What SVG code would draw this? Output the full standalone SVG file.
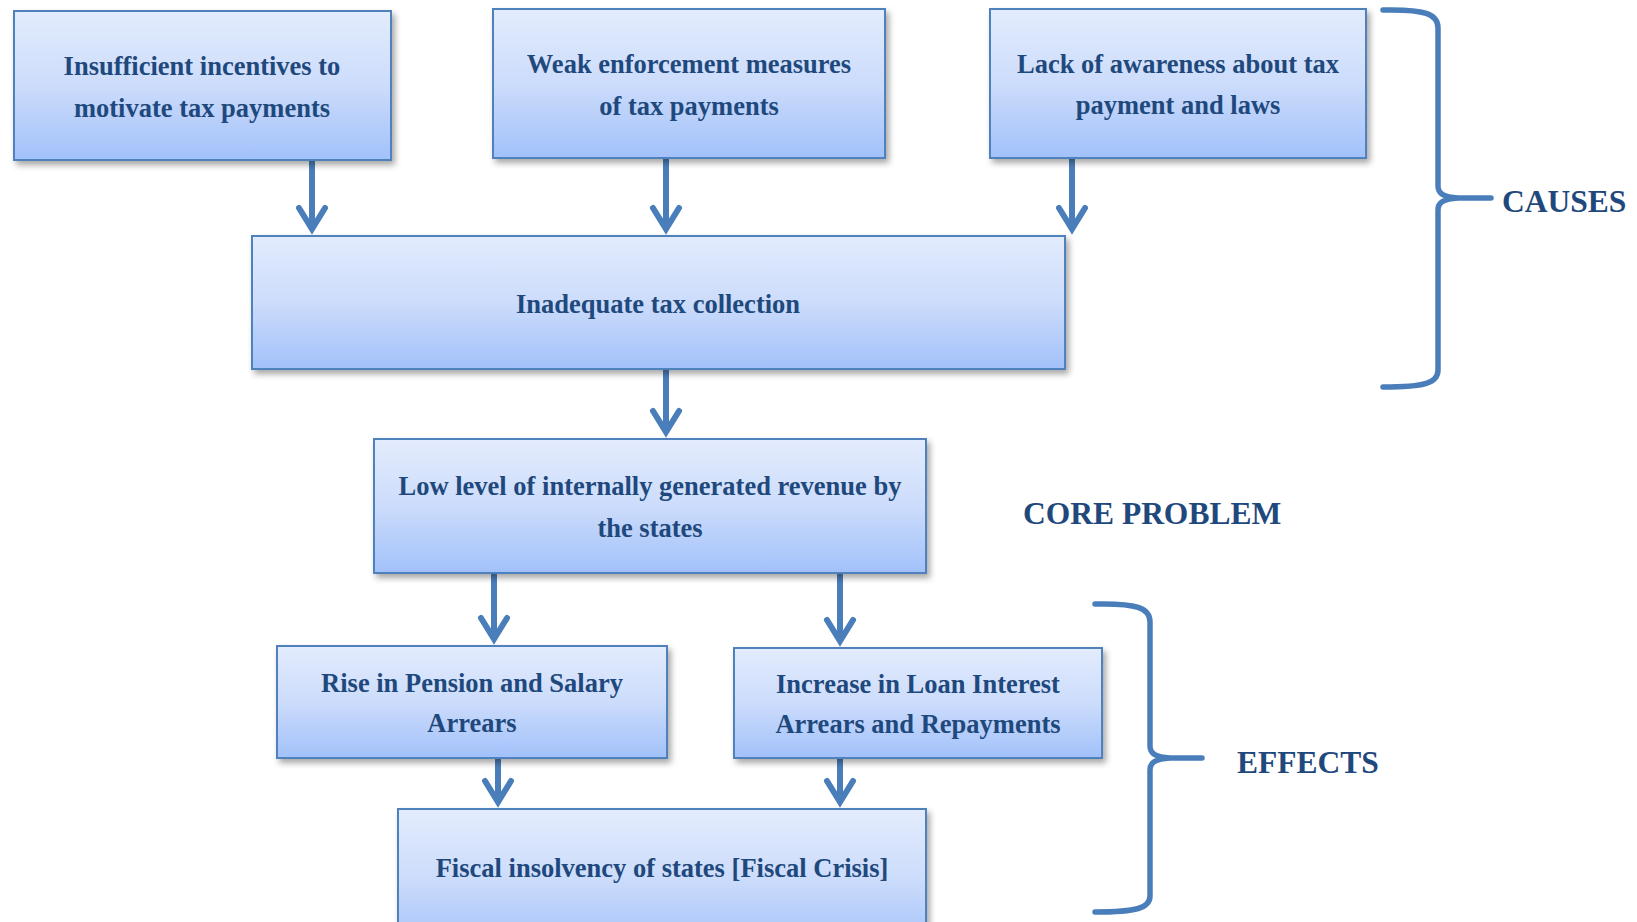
<svg xmlns="http://www.w3.org/2000/svg" width="1637" height="922" viewBox="0 0 1637 922">
<defs>
<linearGradient id="g" x1="0" y1="0" x2="0" y2="1">
<stop offset="0" stop-color="#E3ECFD"/>
<stop offset="0.5" stop-color="#CCDCFB"/>
<stop offset="1" stop-color="#A2C1FA"/>
</linearGradient>
<filter id="sh" x="-5%" y="-5%" width="115%" height="125%">
<feDropShadow dx="3" dy="4" stdDeviation="3" flood-color="#000" flood-opacity="0.35"/>
</filter>
<style>
.box{fill:url(#g);stroke:#4F81BD;stroke-width:2;filter:url(#sh)}
.t{font-family:"Liberation Serif","Times New Roman",serif;font-weight:bold;font-size:26.5px;fill:#1F497D;text-anchor:middle}
.lab{font-family:"Liberation Serif","Times New Roman",serif;font-weight:bold;font-size:31.5px;fill:#1F497D}
.c{fill:none;stroke:#4A7EBB;stroke-width:6;stroke-linecap:round;stroke-linejoin:miter}
.br{fill:none;stroke:#4A7EBB;stroke-width:5.5;stroke-linecap:round;stroke-linejoin:round}
</style>
</defs>
<g id="connectors">
<path class="c" d="M312,162 L312,228 M299,208 L312,229 L325,208"/>
<path class="c" d="M666,160 L666,228 M653,208 L666,229 L679,208"/>
<path class="c" d="M1072,160 L1072,228 M1059,208 L1072,229 L1085,208"/>
<path class="c" d="M666,371 L666,431 M653,411 L666,432 L679,411"/>
<path class="c" d="M494,575 L494,638 M481,618 L494,639 L507,618"/>
<path class="c" d="M840,575 L840,640 M827,620 L840,641 L853,620"/>
<path class="c" d="M498,760 L498,801 M485,781 L498,802 L511,781"/>
<path class="c" d="M840,760 L840,801 M827,781 L840,802 L853,781"/>
</g>
<g id="n1">
<rect class="box" x="14" y="11" width="377" height="149"/>
<text class="t" x="202" y="75">Insufficient incentives to</text>
<text class="t" x="202" y="117">motivate tax payments</text>
</g>
<g id="n2">
<rect class="box" x="493" y="9" width="392" height="149"/>
<text class="t" x="689" y="73">Weak enforcement measures</text>
<text class="t" x="689" y="115">of tax payments</text>
</g>
<g id="n3">
<rect class="box" x="990" y="9" width="376" height="149"/>
<text class="t" x="1178" y="73">Lack of awareness about tax</text>
<text class="t" x="1178" y="114">payment and laws</text>
</g>
<g id="n4">
<rect class="box" x="252" y="236" width="813" height="133"/>
<text class="t" x="658" y="313">Inadequate tax collection</text>
</g>
<g id="n5">
<rect class="box" x="374" y="439" width="552" height="134"/>
<text class="t" x="650" y="495">Low level of internally generated revenue by</text>
<text class="t" x="650" y="537">the states</text>
</g>
<g id="n6">
<rect class="box" x="277" y="646" width="390" height="112"/>
<text class="t" x="472" y="692">Rise in Pension and Salary</text>
<text class="t" x="472" y="732">Arrears</text>
</g>
<g id="n7">
<rect class="box" x="734" y="648" width="368" height="110"/>
<text class="t" x="918" y="693">Increase in Loan Interest</text>
<text class="t" x="918" y="733">Arrears and Repayments</text>
</g>
<g id="n8">
<rect class="box" x="398" y="809" width="528" height="140"/>
<text class="t" x="662" y="877">Fiscal insolvency of states [Fiscal Crisis]</text>
</g>
<g id="causes">
<path class="br" d="M1383,10 C1425,9 1438,14 1438,28 L1438,186 C1438,194 1444,197 1458,198 L1491,198 M1458,198 C1444,199 1438,202 1438,210 L1438,370 C1438,383 1425,387 1383,387"/>
<text class="lab" x="1502" y="212">CAUSES</text>
</g>
<g id="core">
<text class="lab" x="1023" y="524">CORE PROBLEM</text>
</g>
<g id="effects">
<path class="br" d="M1095,604 C1137,603 1150,608 1150,622 L1150,746 C1150,754 1156,757 1170,758 L1202,758 M1170,758 C1156,759 1150,762 1150,770 L1150,896 C1150,908 1137,912 1095,912"/>
<text class="lab" x="1237" y="773">EFFECTS</text>
</g>
</svg>
